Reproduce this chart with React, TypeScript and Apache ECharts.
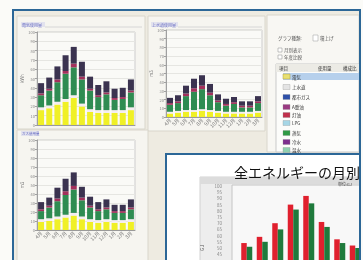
import React, { useEffect, useRef } from "react";
import * as echarts from "echarts";

const months = ["4月", "5月", "6月", "7月", "8月", "9月", "10月", "11月", "12月", "1月", "2月", "3月"];

// Top-left mini chart (電気)
const elecYellow = [16, 18, 22, 25, 29, 20, 14, 13, 13, 13, 13, 16];
const elecWhite = [3, 3, 3, 3, 3, 3, 3, 3, 3, 3, 3, 3];
const elecGreen = [13, 16, 21, 27, 30, 26, 20, 14, 17, 11, 12, 16];
const elecRed = [2, 2, 3, 3, 4, 3, 2, 2, 2, 2, 2, 2];
const elecDark = [11, 12, 14, 17, 18, 16, 13, 11, 12, 10, 10, 12];

// Top-middle mini chart (上水道)
const waterYellow = [4, 5, 6, 6, 7, 6, 5, 4, 4, 4, 4, 5];
const waterWhite = [2, 2, 2, 2, 2, 2, 2, 2, 2, 2, 2, 2];
const waterGreen = [8, 9, 16, 21, 23, 17, 10, 7, 9, 5, 5, 9];
const waterRed = [2, 2, 3, 4, 4, 3, 2, 2, 2, 2, 2, 2];
const waterDark = [6, 7, 9, 11, 12, 10, 7, 6, 6, 5, 5, 6];

// Bottom-left mini chart (都市ガス)
const gasYellow = [9, 10, 12, 14, 16, 12, 9, 8, 9, 8, 8, 9];
const gasWhite = [3, 3, 3, 3, 3, 3, 3, 3, 3, 3, 3, 3];
const gasGreen = [9, 12, 17, 22, 26, 18, 13, 10, 11, 8, 8, 11];
const gasRed = [2, 2, 3, 4, 4, 3, 2, 2, 2, 2, 2, 2];
const gasDark = [8, 9, 12, 14, 15, 12, 10, 8, 9, 7, 7, 9];

// Inset chart: all energy by month
const totalThisYear = [54, 59, 70, 85, 92, 71, 57, 52, 50, 46, 47, 55];
const totalLastYear = [51, 55, 65, 81, 86, 67, 54, 50, 48, 44, 45, 52];

const legendItems = ["上水道", "都市ガス", "A重油", "灯油", "LPG", "蒸気", "冷水", "温水"];
const legendColors = ["#e4e4e4", "#2f50a8", "#9a3a82", "#c0304c", "#a6d6e6", "#2f9a45", "#7d2f8e", "#8fd0b0"];

const stackColors = ["#f0f026", "#f5ecf0", "#2f8c52", "#a3305c", "#3b3350"];

const FONT = "Noto Sans CJK JP";

export default function App() {
  const ref = useRef<HTMLDivElement>(null);

  useEffect(() => {
    if (!ref.current) return;
    const chart = echarts.init(ref.current, undefined, { renderer: "svg" });

    const grids = [
      { left: 37, top: 32, width: 98, height: 93 },
      { left: 166, top: 30, width: 96, height: 87 },
      { left: 37, top: 140, width: 98, height: 90 },
      { left: 239, top: 186, width: 186, height: 124 },
    ];

    const miniX = (gi: number, showLabels: boolean) => ({
      type: "category",
      gridIndex: gi,
      data: months,
      z: 4,
      axisLine: { lineStyle: { color: "#9a9a9a", width: 1 } },
      axisTick: { show: false },
      axisLabel: {
        show: showLabels,
        rotate: 45,
        fontSize: 5,
        color: "#777",
        margin: 2,
        interval: 0,
        fontFamily: FONT,
      },
    });

    const miniY = (gi: number, name: string, gap: number) => ({
      type: "value",
      gridIndex: gi,
      min: 0,
      max: 100,
      interval: 10,
      z: 4,
      name,
      nameLocation: "middle",
      nameRotate: 90,
      nameGap: gap,
      nameTextStyle: { fontSize: 4.5, color: "#777", fontFamily: FONT },
      axisLine: { show: true, lineStyle: { color: "#a0a0a0" } },
      axisTick: { show: true, length: 2, lineStyle: { color: "#a0a0a0" } },
      axisLabel: { fontSize: 4, color: "#888", margin: 2, fontFamily: FONT },
      splitLine: { lineStyle: { color: "#e6e6e2", width: 1 } },
    });

    const stackSeries = (gi: number, arrays: number[][], key: string) =>
      arrays.map((d, i) => ({
        type: "bar",
        xAxisIndex: gi,
        yAxisIndex: gi,
        stack: key,
        data: d,
        barWidth: 6,
        z: 5,
        itemStyle: { color: stackColors[i] },
      }));

    const g: any[] = [];
    const rect = (x: number, y: number, w: number, h: number, style: any, z = 1) =>
      g.push({ type: "rect", shape: { x, y, width: w, height: h }, style, z, silent: true });
    const text = (x: number, y: number, t: string, size: number, fill: string, z = 6, extra: any = {}) =>
      g.push({
        type: "text",
        x,
        y,
        z,
        silent: true,
        style: { text: t, fontSize: size, fill, fontFamily: FONT, textVerticalAlign: "middle", ...extra },
      });

    // backdrop
    rect(0, 0, 363, 260, { fill: "#fbfbf8" }, 0);
    rect(13, 10, 347, 255, { fill: "#eeebe1" }, 0);

    // panels
    rect(17, 16, 128, 113, { fill: "#f6f5f0", stroke: "#d9d6cc", lineWidth: 1 });
    rect(148, 16, 117, 115, { fill: "#f6f5f0", stroke: "#d9d6cc", lineWidth: 1 });
    rect(17, 130, 131, 135, { fill: "#f6f5f0", stroke: "#d9d6cc", lineWidth: 1 });
    rect(267, 15, 92, 137, { fill: "#f8f7f3", stroke: "#d9d6cc", lineWidth: 1 });

    // tabs
    rect(21, 22, 24, 5, { fill: "#e2e2ee" }, 2);
    text(22, 24.5, "電気使用量", 4, "#6b70c4");
    g.push({ type: "line", shape: { x1: 45, y1: 27, x2: 142, y2: 27 }, style: { stroke: "#d6d6d6", lineWidth: 1 }, z: 2 });
    rect(151, 22, 27, 5, { fill: "#e2e2ee" }, 2);
    text(152, 24.5, "上水道使用量", 4, "#6b70c4");
    g.push({ type: "line", shape: { x1: 178, y1: 27, x2: 262, y2: 27 }, style: { stroke: "#d6d6d6", lineWidth: 1 }, z: 2 });
    rect(21, 131, 18, 5, { fill: "#e2e2ee" }, 2);
    text(22, 133.5, "ガス使用量", 3.5, "#6b70c4");

    // legend panel content
    text(278, 38, "グラフ種類:", 4.5, "#555");
    rect(313, 35, 5, 6, { fill: "#ffffff", stroke: "#999", lineWidth: 0.5 }, 2);
    text(320, 38, "積上げ", 4.5, "#555");
    rect(278, 48, 4, 4, { fill: "#ffffff", stroke: "#888", lineWidth: 0.5 }, 2);
    text(284, 50, "月別表示", 4.5, "#555");
    rect(278, 55, 4, 4, { fill: "#ffffff", stroke: "#888", lineWidth: 0.5 }, 2);
    text(284, 57, "年度比較", 4.5, "#555");
    rect(276, 64, 83, 88, { fill: "#fcfcfa", stroke: "#c9c9c9", lineWidth: 1 }, 2);
    rect(276, 64, 83, 8, { fill: "#ecebe5" }, 3);
    text(279, 68, "項目", 4.5, "#333");
    text(318, 68, "使用量", 4.5, "#333");
    text(343, 68, "構成比", 4.5, "#333");
    rect(283, 73, 76, 7, { fill: "#b6d0ec" }, 3);
    rect(283, 74, 7, 5, { fill: "#e8e070", stroke: "#b0a040", lineWidth: 0.5 }, 4);
    text(292, 76.5, "電気", 4.5, "#333");
    const rowYs = [87, 97, 107, 115, 123, 133, 142, 150];
    legendItems.forEach((name, i) => {
      rect(283, rowYs[i] - 2.5, 7, 5, { fill: legendColors[i], stroke: "#888", lineWidth: 0.3 }, 4);
      text(292, rowYs[i], name, 4.5, "#333");
    });

    // inset box
    rect(165, 153, 196, 115, { fill: "#ffffff" }, 1);
    rect(200, 177, 162, 90, { fill: "#ededed", stroke: "#d2d2d2", lineWidth: 1 }, 2);
    rect(200, 177, 162, 7, { fill: "#dcdcdc" }, 2);
    rect(232, 185, 130, 80, { fill: "#f8f8f8", stroke: "#c4c4c4", lineWidth: 1 }, 2);
    text(338, 183.5, "単位:GJ", 4, "#444");
    text(234, 171.5, "全エネルギーの月別", 14, "#111111", 6, { lineHeight: 14 });

    // frames on top
    rect(361, 0, 2, 260, { fill: "#fbfbf8" }, 19);
    rect(13, 10, 347, 262, { fill: "none", stroke: "#2c6797", lineWidth: 2 }, 20);
    rect(166, 154, 194, 120, { fill: "none", stroke: "#2c6797", lineWidth: 2 }, 20);

    const option: any = {
      animation: false,
      textStyle: { fontFamily: FONT },
      grid: grids.map((gr, i) =>
        i < 3
          ? { ...gr, outerBoundsMode: "none", containLabel: false, show: true, backgroundColor: "#fafaf7", borderColor: "#cdcdcd", borderWidth: 1, z: 3 }
          : { ...gr, outerBoundsMode: "none", containLabel: false, show: false, z: 3 }
      ),
      xAxis: [
        miniX(0, false),
        miniX(1, true),
        miniX(2, true),
        {
          type: "category",
          gridIndex: 3,
          data: months,
          z: 4,
          axisLine: { lineStyle: { color: "#999" } },
          axisTick: { show: false },
          axisLabel: { show: false },
        },
      ],
      yAxis: [
        miniY(0, "kWh", 12),
        miniY(1, "m3", 11),
        miniY(2, "m3", 12),
        {
          type: "value",
          gridIndex: 3,
          min: 0,
          max: 100,
          interval: 5,
          z: 4,
          name: "GJ",
          nameLocation: "middle",
          nameRotate: 90,
          nameGap: 30,
          nameTextStyle: { fontSize: 5, color: "#555", fontFamily: FONT },
          axisLine: { show: false },
          axisTick: { show: false },
          axisLabel: {
            fontSize: 4.5,
            color: "#888",
            margin: 17,
            fontFamily: FONT,
            formatter: (v: number) => (v >= 45 ? String(v) : ""),
          },
          splitLine: { show: false },
        },
      ],
      series: [
        ...stackSeries(0, [elecYellow, elecWhite, elecGreen, elecRed, elecDark], "elec"),
        ...stackSeries(1, [waterYellow, waterWhite, waterGreen, waterRed, waterDark], "water"),
        ...stackSeries(2, [gasYellow, gasWhite, gasGreen, gasRed, gasDark], "gas"),
        {
          type: "bar",
          name: "今年度",
          xAxisIndex: 3,
          yAxisIndex: 3,
          data: totalThisYear,
          barWidth: 5.5,
          barGap: "0%",
          z: 5,
          itemStyle: { color: "#e0202e" },
        },
        {
          type: "bar",
          name: "前年度",
          xAxisIndex: 3,
          yAxisIndex: 3,
          data: totalLastYear,
          barWidth: 5.5,
          barGap: "0%",
          z: 5,
          itemStyle: { color: "#1f7a3c" },
        },
      ],
      graphic: { elements: g },
    };

    chart.setOption(option);
    return () => chart.dispose();
  }, []);

  return (
    <div
      ref={ref}
      style={{ position: "fixed", left: 0, top: 0, width: 363, height: 260, overflow: "hidden" }}
    />
  );
}
